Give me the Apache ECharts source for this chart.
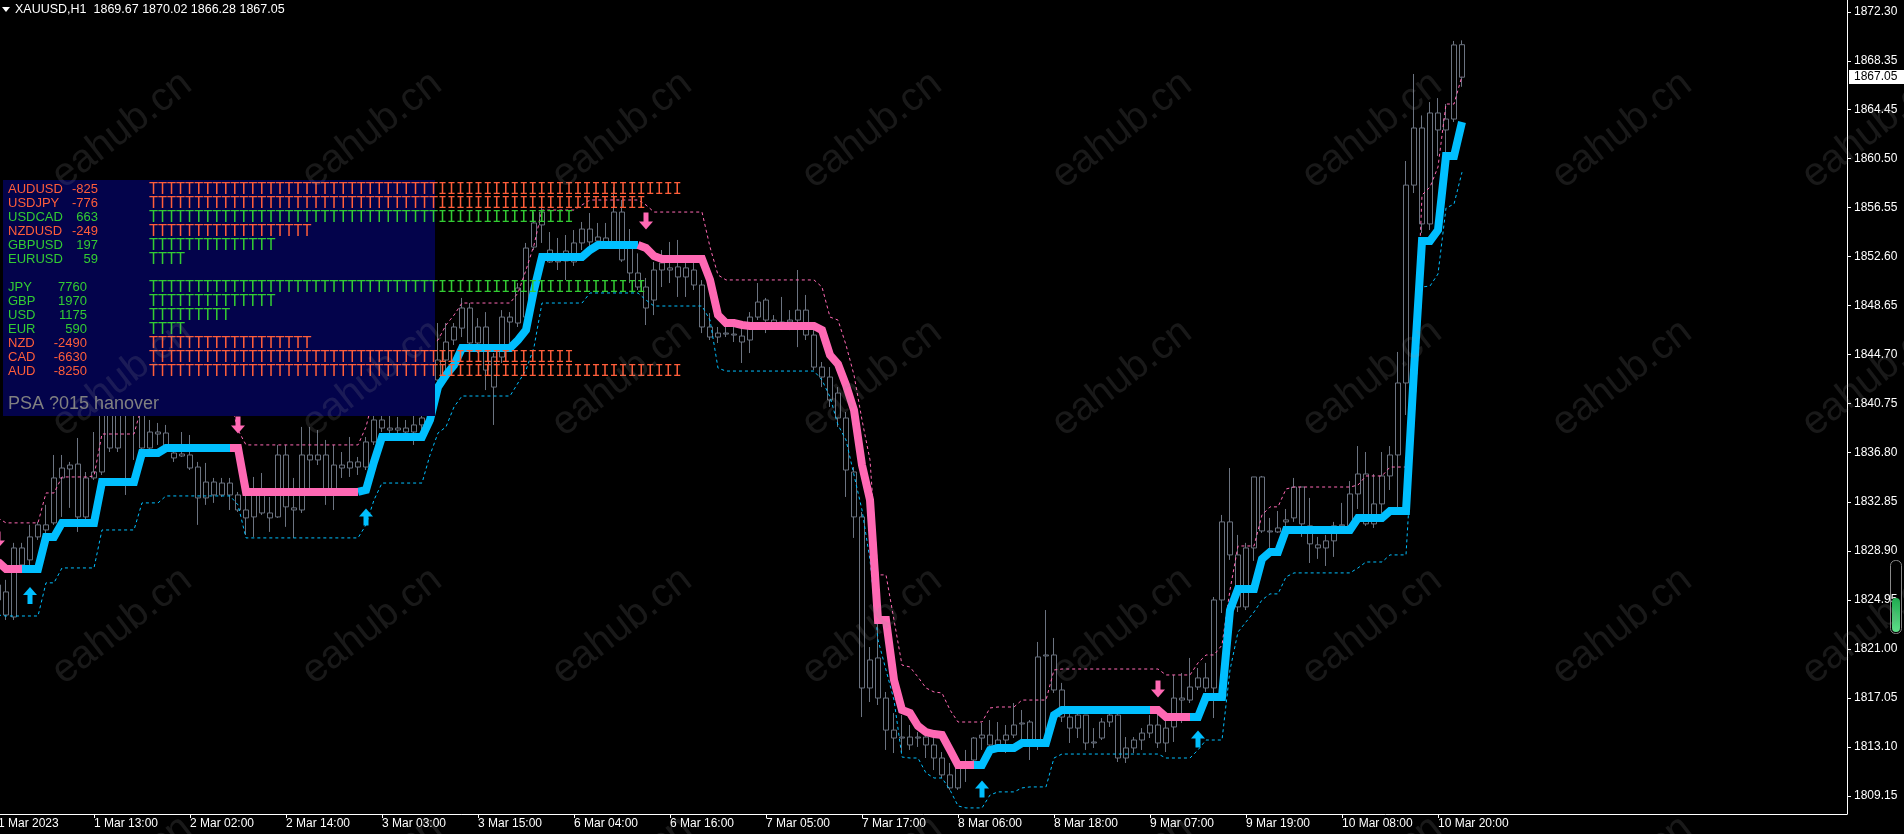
<!DOCTYPE html>
<html><head><meta charset="utf-8">
<script src="https://cdn.jsdelivr.net/npm/echarts@6/dist/echarts.min.js"></script>
<style>html,body{margin:0;padding:0;background:#000;overflow:hidden}#c{width:1904px;height:834px}</style>
</head><body><div id="c"></div>
<script>
// ---------- DATA ----------
const headerText = 'XAUUSD,H1  1869.67 1870.02 1866.28 1867.05';
const xTickIndex = [0,12,24,36,48,60,72,84,96,108,120,132,144,156,168,180];
const xTickLabels = ['1 Mar 2023','1 Mar 13:00','2 Mar 02:00','2 Mar 14:00','3 Mar 03:00','3 Mar 15:00','6 Mar 04:00','6 Mar 16:00','7 Mar 05:00','7 Mar 17:00','8 Mar 06:00','8 Mar 18:00','9 Mar 07:00','9 Mar 19:00','10 Mar 08:00','10 Mar 20:00'];
const yTickValues = [1809.15,1813.10,1817.05,1821.00,1824.95,1828.90,1832.85,1836.80,1840.75,1844.70,1848.65,1852.60,1856.55,1860.50,1864.45,1868.35,1872.30];

const opens = [1824.94,1825.59,1823.57,1829.13,1828.17,1830.02,1830.99,1831.15,1834.77,1835.81,
1835.89,1831.63,1834.77,1835.25,1841.05,1837.18,1841.45,1840.65,1840.24,1837.18,
1838.47,1838.39,1836.78,1836.54,1836.62,1835.65,1833.16,1834.44,1833.40,1834.36,
1833.40,1832.19,1831.63,1833.40,1831.95,1831.63,1836.62,1832.36,1832.19,1836.62,
1836.22,1836.62,1833.56,1835.81,1835.57,1836.06,1835.65,1837.67,1839.44,1838.79,
1838.63,1838.79,1838.47,1839.04,1839.60,1842.66,1844.27,1845.88,1846.84,1848.46,
1845.64,1846.93,1842.09,1844.51,1847.73,1847.25,1847.73,1853.37,1855.15,1853.13,
1852.17,1852.25,1852.17,1853.70,1854.82,1853.86,1854.10,1853.78,1856.19,1853.53,
1851.28,1850.15,1849.10,1851.52,1851.69,1850.96,1851.69,1851.52,1850.31,1846.93,
1846.12,1846.44,1846.36,1846.20,1845.88,1847.73,1849.10,1847.49,1847.25,1847.33,
1847.49,1848.29,1846.28,1843.70,1842.90,1841.61,1839.60,1835.25,1831.63,1817.85,
1820.27,1817.04,1814.46,1813.82,1813.90,1813.82,1813.90,1813.26,1812.21,1810.85,
1809.80,1811.40,1812.05,1813.82,1814.06,1813.26,1813.66,1814.06,1814.95,1815.11,
1813.66,1820.43,1820.51,1817.69,1815.51,1814.62,1815.67,1813.42,1813.82,1815.11,
1815.67,1812.21,1813.02,1813.66,1814.22,1814.87,1813.42,1814.71,1817.04,1816.88,
1817.93,1818.66,1817.85,1824.94,1831.23,1828.57,1824.38,1829.13,1834.85,1830.50,
1830.42,1831.23,1831.55,1834.04,1830.91,1829.38,1829.13,1829.70,1830.91,1830.91,
1833.48,1835.09,1831.07,1832.68,1834.93,1836.62,1842.42,1858.36,1862.96,1855.23,
1864.17,1862.80,1863.68,1869.67];
const highs = [1826.96,1826.56,1829.54,1829.54,1830.99,1831.23,1832.60,1836.62,1836.62,1836.06,
1837.99,1835.25,1838.47,1842.66,1842.25,1842.66,1843.46,1842.25,1841.85,1839.44,
1839.20,1839.04,1837.18,1838.47,1838.23,1836.06,1835.98,1834.77,1834.77,1834.77,
1833.64,1833.80,1834.85,1835.17,1833.24,1837.43,1837.43,1834.77,1838.88,1838.88,
1838.63,1837.83,1837.43,1836.86,1838.07,1836.46,1838.07,1840.08,1840.65,1839.84,
1839.68,1839.44,1839.84,1841.05,1843.46,1847.25,1847.25,1847.25,1849.27,1848.86,
1847.65,1848.13,1844.83,1848.29,1848.13,1850.47,1853.70,1856.19,1856.76,1854.58,
1854.10,1854.34,1854.74,1855.39,1856.11,1855.31,1855.31,1858.20,1857.16,1854.82,
1852.86,1850.88,1852.17,1853.13,1853.78,1853.94,1852.17,1852.17,1850.71,1848.05,
1846.93,1846.93,1846.93,1846.93,1848.13,1850.47,1849.27,1847.89,1849.35,1848.29,
1851.52,1849.51,1846.93,1844.11,1843.70,1842.09,1840.08,1835.65,1832.03,1821.15,
1823.33,1817.53,1815.83,1815.67,1814.87,1814.30,1814.46,1813.82,1812.69,1811.81,
1811.48,1812.86,1813.90,1815.03,1815.27,1815.11,1814.87,1816.64,1816.08,1815.27,
1821.56,1824.13,1821.88,1818.26,1815.83,1815.91,1815.67,1814.62,1815.43,1816.32,
1816.32,1813.90,1813.90,1814.62,1815.67,1815.83,1815.43,1818.90,1819.06,1820.27,
1819.46,1819.87,1825.18,1831.79,1835.57,1830.18,1829.54,1834.85,1834.93,1831.55,
1832.11,1832.27,1834.77,1834.04,1833.16,1830.02,1830.18,1831.23,1832.76,1834.52,
1837.34,1836.86,1835.09,1836.86,1837.34,1844.92,1860.30,1867.31,1863.97,1865.05,
1865.37,1864.89,1869.97,1870.02];
const lows = [1824.54,1823.33,1823.33,1827.36,1827.36,1829.78,1830.18,1830.99,1831.63,1832.36,
1830.42,1831.39,1834.61,1835.01,1836.86,1836.86,1833.40,1836.22,1836.62,1837.02,
1837.43,1837.02,1836.06,1836.46,1835.41,1830.99,1832.60,1832.76,1833.24,1832.19,
1832.03,1830.18,1830.02,1831.79,1830.42,1831.55,1830.83,1829.94,1831.95,1833.40,
1835.81,1832.60,1832.19,1834.77,1834.85,1835.01,1835.41,1837.43,1838.47,1837.83,
1838.39,1837.83,1837.43,1838.39,1839.44,1842.25,1842.66,1845.48,1846.12,1845.31,
1844.83,1841.85,1839.04,1844.03,1845.64,1846.93,1847.49,1853.13,1853.70,1852.09,
1851.52,1850.71,1851.85,1853.13,1853.37,1853.53,1853.53,1853.53,1852.17,1850.47,
1849.91,1847.09,1847.89,1850.15,1850.47,1849.35,1849.35,1849.91,1846.44,1845.88,
1845.64,1846.12,1845.72,1844.03,1844.83,1847.49,1846.44,1846.84,1846.93,1846.68,
1845.31,1845.88,1843.46,1842.09,1840.49,1838.88,1833.24,1829.94,1815.51,1816.72,
1816.48,1812.86,1812.61,1812.69,1812.86,1813.10,1812.21,1811.24,1810.60,1809.64,
1809.64,1810.28,1811.48,1812.86,1813.10,1812.86,1812.61,1813.82,1813.66,1812.05,
1812.86,1813.66,1817.45,1815.11,1813.42,1813.82,1812.86,1813.02,1813.66,1814.71,
1811.89,1811.81,1812.61,1812.86,1813.82,1813.02,1812.69,1813.50,1815.03,1816.64,
1817.69,1817.53,1815.43,1823.89,1828.17,1823.97,1824.13,1828.09,1830.34,1829.13,
1830.34,1830.66,1831.23,1830.02,1827.92,1828.25,1827.68,1828.41,1830.74,1830.74,
1832.27,1830.91,1830.74,1831.95,1833.80,1831.79,1839.84,1857.72,1854.50,1854.74,
1860.70,1861.02,1863.44,1866.28];
const closes = [1826.15,1823.73,1829.13,1827.76,1830.02,1830.99,1830.58,1834.77,1835.57,1835.49,
1831.63,1834.77,1835.25,1840.65,1837.18,1841.45,1840.65,1841.05,1837.18,1838.47,
1838.31,1837.26,1836.38,1836.70,1835.57,1833.16,1834.44,1833.40,1834.36,1833.40,
1832.19,1831.55,1833.40,1831.95,1831.55,1836.62,1832.44,1832.19,1836.62,1836.22,
1836.62,1833.40,1835.81,1835.57,1836.06,1835.65,1837.67,1839.44,1838.79,1838.63,
1838.79,1838.47,1839.04,1839.60,1842.66,1844.27,1845.72,1846.93,1848.46,1845.64,
1846.93,1843.46,1844.51,1847.73,1847.33,1850.07,1853.29,1855.31,1856.19,1852.17,
1852.25,1853.05,1853.70,1854.82,1853.78,1854.18,1853.78,1856.19,1852.33,1851.28,
1850.15,1848.46,1851.52,1852.09,1851.52,1851.77,1850.96,1850.31,1846.93,1846.12,
1846.44,1846.36,1846.28,1845.72,1847.73,1848.94,1847.49,1847.25,1847.33,1847.49,
1848.29,1846.28,1843.70,1842.90,1841.05,1839.60,1835.41,1831.63,1817.85,1820.11,
1817.04,1814.46,1813.82,1813.90,1813.26,1813.90,1813.26,1812.21,1810.85,1809.80,
1811.40,1811.81,1813.82,1814.06,1813.26,1813.66,1814.06,1814.87,1815.03,1813.66,
1820.35,1820.51,1817.69,1815.51,1814.62,1815.67,1813.42,1813.50,1815.11,1815.67,
1812.21,1813.02,1813.66,1814.22,1814.87,1813.42,1814.62,1817.04,1816.88,1817.93,
1818.66,1817.85,1824.94,1831.23,1828.57,1824.38,1829.13,1834.85,1830.50,1830.42,
1830.74,1831.39,1834.04,1831.07,1829.46,1829.13,1829.70,1830.91,1830.99,1833.48,
1835.09,1831.07,1832.68,1834.93,1836.62,1842.42,1858.36,1862.96,1855.23,1864.17,
1862.80,1863.68,1869.65,1867.05];

const trendLine = [1828.01,1827.44,1827.44,1827.44,1827.44,1827.44,1830.02,1830.02,1831.15,1831.15,
1831.15,1831.15,1831.15,1834.44,1834.44,1834.44,1834.44,1834.44,1836.78,1836.78,
1836.78,1837.18,1837.18,1837.18,1837.18,1837.18,1837.18,1837.18,1837.18,1837.18,
1837.18,1833.64,1833.64,1833.64,1833.64,1833.64,1833.64,1833.64,1833.64,1833.64,
1833.64,1833.64,1833.64,1833.64,1833.64,1833.64,1833.80,1836.06,1838.07,1838.07,
1838.07,1838.07,1838.07,1838.07,1839.44,1842.09,1843.06,1843.86,1845.23,1845.23,
1845.23,1845.23,1845.23,1845.23,1845.23,1845.88,1846.68,1849.91,1852.57,1852.57,
1852.57,1852.57,1852.57,1852.57,1853.13,1853.53,1853.53,1853.53,1853.53,1853.53,
1853.53,1853.29,1852.65,1852.41,1852.41,1852.41,1852.41,1852.41,1852.41,1850.72,
1847.89,1847.25,1847.25,1847.09,1847.01,1847.01,1847.01,1847.01,1847.01,1847.01,
1847.01,1847.01,1847.01,1846.68,1844.67,1843.94,1842.25,1840.24,1835.81,1833.00,
1823.33,1823.33,1818.50,1816.08,1815.83,1814.79,1814.30,1814.14,1814.06,1812.86,
1811.64,1811.64,1811.64,1811.64,1812.86,1813.02,1813.02,1813.02,1813.42,1813.42,
1813.42,1813.42,1815.67,1816.08,1816.08,1816.08,1816.08,1816.08,1816.08,1816.08,
1816.08,1816.08,1816.08,1816.08,1816.08,1816.08,1815.51,1815.51,1815.51,1815.51,
1815.51,1817.13,1817.13,1817.13,1824.13,1825.83,1825.83,1825.83,1828.25,1828.81,
1828.81,1830.58,1830.58,1830.58,1830.58,1830.58,1830.58,1830.58,1830.58,1830.58,
1831.55,1831.55,1831.55,1831.55,1832.11,1832.11,1832.11,1843.46,1853.86,1853.86,
1854.74,1860.70,1860.70,1863.44];
// [firstBar, lastBar, direction]  1 = up (blue), -1 = down (pink)
const trendSegments = [[0,3,-1],[4,29,1],[30,45,-1],[46,80,1],[81,122,-1],[123,144,1],[145,149,-1],[150,183,1]];

const upperBand = [1831.55,1831.15,1831.15,1831.15,1831.15,1831.15,1833.56,1833.56,1834.85,1834.85,
1834.85,1834.85,1834.93,1838.31,1838.31,1838.31,1838.31,1838.31,1840.65,1841.21,
1841.21,1841.21,1841.21,1841.21,1841.21,1841.21,1841.21,1841.21,1841.21,1841.21,
1838.63,1837.43,1837.43,1837.43,1837.43,1837.43,1837.43,1837.43,1837.43,1837.43,
1837.43,1837.43,1837.43,1837.43,1837.43,1837.43,1838.88,1841.45,1842.66,1842.66,
1842.66,1842.66,1842.66,1844.27,1845.48,1845.88,1847.09,1847.89,1848.86,1848.86,
1848.86,1848.86,1848.86,1848.86,1848.86,1849.67,1851.52,1853.53,1856.35,1856.35,
1856.35,1856.35,1856.35,1856.76,1857.16,1857.16,1857.16,1857.16,1857.16,1857.16,
1857.16,1856.76,1856.19,1856.19,1856.19,1856.19,1856.19,1856.19,1856.19,1853.37,
1851.12,1850.72,1850.72,1850.72,1850.72,1850.72,1850.72,1850.72,1850.72,1850.72,
1850.72,1850.72,1850.72,1850.15,1847.73,1847.49,1845.48,1843.06,1839.44,1836.22,
1826.96,1826.96,1823.33,1819.70,1819.54,1818.73,1817.85,1817.53,1817.45,1816.08,
1815.11,1815.11,1815.11,1815.11,1816.24,1816.32,1816.32,1816.32,1816.88,1816.88,
1816.88,1816.88,1819.30,1819.38,1819.38,1819.38,1819.38,1819.38,1819.38,1819.38,
1819.38,1819.38,1819.38,1819.38,1819.38,1819.38,1818.90,1818.90,1818.90,1818.90,
1819.87,1820.51,1820.51,1821.31,1825.75,1829.29,1829.29,1829.29,1831.79,1832.44,
1832.44,1833.88,1834.04,1834.04,1834.04,1834.04,1834.04,1834.04,1834.04,1834.04,
1834.20,1834.93,1834.93,1834.93,1835.65,1835.65,1835.65,1841.85,1857.56,1858.20,
1859.82,1864.89,1864.89,1867.15];
const lowerBand = [1823.73,1823.65,1823.65,1823.65,1823.65,1823.65,1826.32,1826.32,1827.52,1827.52,
1827.52,1827.52,1827.52,1830.58,1830.58,1830.58,1830.58,1830.58,1832.76,1832.76,
1832.76,1833.32,1833.32,1833.32,1833.32,1833.32,1833.32,1833.32,1833.32,1833.32,
1832.60,1829.94,1829.94,1829.94,1829.94,1829.94,1829.94,1829.94,1829.94,1829.94,
1829.94,1829.94,1829.94,1829.94,1829.94,1829.94,1830.99,1833.00,1834.36,1834.36,
1834.36,1834.36,1834.36,1834.36,1836.62,1838.39,1838.88,1840.49,1841.37,1841.37,
1841.37,1841.37,1841.37,1841.37,1841.37,1842.42,1843.46,1845.31,1848.86,1848.86,
1848.86,1848.86,1848.86,1848.86,1849.67,1849.67,1849.67,1849.67,1849.67,1849.67,
1849.67,1849.10,1848.62,1848.62,1848.62,1848.62,1848.62,1848.62,1848.62,1847.49,
1843.62,1843.38,1843.38,1843.38,1843.38,1843.38,1843.38,1843.38,1843.38,1843.38,
1843.38,1843.38,1843.38,1842.66,1841.29,1839.04,1837.83,1835.01,1832.19,1828.17,
1821.72,1819.30,1816.88,1812.29,1812.21,1812.21,1811.00,1810.60,1810.60,1809.64,
1808.35,1808.19,1808.19,1808.19,1809.23,1809.48,1809.48,1809.48,1809.80,1809.88,
1809.88,1809.88,1812.21,1812.53,1812.53,1812.53,1812.53,1812.53,1812.53,1812.53,
1812.53,1812.53,1812.53,1812.53,1812.53,1812.53,1812.21,1812.21,1812.21,1812.21,
1812.86,1813.66,1813.66,1813.66,1819.30,1822.36,1823.17,1823.97,1824.94,1825.43,
1825.43,1826.80,1827.12,1827.12,1827.12,1827.12,1827.12,1827.12,1827.12,1827.12,
1827.52,1828.00,1828.00,1828.00,1828.57,1828.57,1828.57,1839.44,1850.15,1850.23,
1851.20,1856.51,1856.83,1859.40];

const upArrows = [[4,1825.30],[46,1831.63],[123,1809.72],[150,1813.74]];
const downArrows = [[0,1829.78],[30,1839.04],[81,1855.47],[145,1817.77]];

const pairNames = ['AUDUSD','USDJPY','USDCAD','NZDUSD','GBPUSD','EURUSD'];
const pairValues = [-825,-776,663,-249,197,59];
const pairBars = [59,55,47,18,14,4];
const ccyNames = ['JPY','GBP','USD','EUR','NZD','CAD','AUD'];
const ccyValues = [7760,1970,1175,590,-2490,-6630,-8250];
const ccyBars = [55,14,9,4,18,47,59];
const panelFooter = 'PSA ?015 hanover';
const watermarkText = 'eahub.cn';

// ---------- BUILD ----------
const BLUE = '#00bfff', PINK = '#ff69b4', CANDLE = '#6b7380';
const RED = '#ff5e3a', GREEN = '#33cc33';
const FONT = '"Liberation Sans", Arial, sans-serif';
const N = opens.length;
const candleData = opens.map((o,i)=>[i,o,closes[i],lows[i],highs[i]]);
const dir = new Array(N).fill(0);
trendSegments.forEach(([a,b,d])=>{ for(let i=a;i<=b;i++) dir[i]=d; });
function trendPart(d){
  return trendLine.map((v,i)=> (dir[i]===d || (i+1<N && dir[i+1]===d)) ? [i,v] : [i,'-']);
}
const lastClose = closes[N-1];

const upPath = 'path://M7,0 L14,8 L9.5,8 L9.5,17 L4.5,17 L4.5,8 L0,8 Z';
const downPath = 'path://M4.5,0 L9.5,0 L9.5,9 L14,9 L7,17 L0,9 L4.5,9 Z';

const G = [];
// header
G.push({type:'polygon', shape:{points:[[2,7],[10,7],[6,12]]}, style:{fill:'#fff'}, z:100});
G.push({type:'text', x:15, y:10, z:100, style:{text:headerText, fill:'#fff', font:'12.5px '+FONT, align:'left', verticalAlign:'middle'}});
// panel
G.push({type:'rect', shape:{x:3,y:180,width:432,height:236}, style:{fill:'#03034b'}, z:100});
const rowTop = 189, rowStep = 14, barX = 149, inside = 32;
function barStr(n){ return 'T'.repeat(Math.min(n,inside)) + 'I'.repeat(Math.max(0,n-inside)); }
const lblFont = '13px '+FONT;
const monoFont = '15px "DejaVu Sans Mono", "Liberation Mono", monospace';
function addRow(k, name, val, n, valRight){
  const y = rowTop + k*rowStep;
  const col = val < 0 ? RED : GREEN;
  G.push({type:'text', x:8, y:y, z:101, style:{text:name, fill:col, font:lblFont, align:'left', verticalAlign:'middle'}});
  G.push({type:'text', x:valRight, y:y, z:101, style:{text:String(val), fill:col, font:lblFont, align:'right', verticalAlign:'middle'}});
  G.push({type:'text', x:barX, y:y+1, z:101, style:{text:barStr(n), fill:col, font:monoFont, align:'left', verticalAlign:'middle'}});
}
pairNames.forEach((n,k)=>addRow(k, n, pairValues[k], pairBars[k], 98));
ccyNames.forEach((n,k)=>addRow(k+7, n, ccyValues[k], ccyBars[k], 87));
G.push({type:'text', x:8, y:404, z:101, style:{text:panelFooter, fill:'#808080', font:'18px '+FONT, align:'left', verticalAlign:'middle'}});
// gauge
G.push({type:'rect', shape:{x:1890.5,y:560.5,width:11,height:73,r:5}, style:{fill:'none', stroke:'#8a8a8a', lineWidth:1}, z:100});
G.push({type:'rect', shape:{x:1892,y:598,width:8,height:34,r:4}, style:{fill:new echarts.graphic.LinearGradient(0,0,0,1,[{offset:0,color:'#1faa4f'},{offset:1,color:'#5fe08a'}])}, z:100});
// watermarks
for(let r=0;r<4;r++){
  for(let c=0;c<8;c++){
    G.push({type:'text', x:122+250*c, y:130+248*r, rotation:0.66, z:120, silent:true,
      style:{text:watermarkText, fill:'rgba(150,150,150,0.17)', font:'40px '+FONT, align:'center', verticalAlign:'middle'}});
  }
}

const option = {
  animation:false,
  backgroundColor:'#000',
  grid:{left:-2, right:57, top:0, bottom:20, containLabel:false, outerBoundsMode:'none'},
  xAxis:{type:'value', min:0, max:231.125, splitLine:{show:false},
    axisLine:{show:true, onZero:false, lineStyle:{color:'#ffffff', width:1}},
    axisTick:{show:true, customValues:xTickIndex, length:4, lineStyle:{color:'#ffffff'}},
    axisLabel:{show:true, customValues:xTickIndex, hideOverlap:false, align:'left', margin:4,
      color:'#ffffff', fontSize:12, fontFamily:FONT,
      formatter:(v)=>{ const k = xTickIndex.indexOf(Math.round(v)); return k>=0 ? xTickLabels[k] : ''; }}
  },
  yAxis:{type:'value', position:'right', min:1807.70, max:1873.27, splitLine:{show:false},
    axisLine:{show:true, onZero:false, lineStyle:{color:'#ffffff', width:1}},
    axisTick:{show:true, customValues:yTickValues, length:4, lineStyle:{color:'#ffffff'}},
    axisLabel:{show:true, customValues:yTickValues, hideOverlap:false, margin:7, align:'left',
      color:'#ffffff', fontSize:12, fontFamily:FONT,
      formatter:(v)=>v.toFixed(2)}
  },
  series:[
    {type:'candlestick', name:'XAUUSD', data:candleData, barWidth:5, z:2,
      itemStyle:{color:'#000', color0:'#000', borderColor:CANDLE, borderColor0:CANDLE, borderWidth:1}},
    {type:'line', name:'upper', data:upperBand.map((v,i)=>[i,v]), symbol:'none', z:3,
      lineStyle:{color:PINK, width:1, type:[3,3]}},
    {type:'line', name:'lower', data:lowerBand.map((v,i)=>[i,v]), symbol:'none', z:3,
      lineStyle:{color:BLUE, width:1, type:[3,3]}},
    {type:'line', name:'trendUp', data:trendPart(1), symbol:'none', connectNulls:false, z:4,
      lineStyle:{color:BLUE, width:8, cap:'butt', join:'miter'}},
    {type:'line', name:'trendDown', data:trendPart(-1), symbol:'none', connectNulls:false, z:4,
      lineStyle:{color:PINK, width:8, cap:'butt', join:'miter'}},
    {type:'scatter', name:'buy', data:upArrows, symbol:upPath, symbolSize:[14,17], z:5,
      itemStyle:{color:BLUE, opacity:1}},
    {type:'scatter', name:'sell', data:downArrows, symbol:downPath, symbolSize:[14,17], z:5,
      itemStyle:{color:PINK, opacity:1}}
  ],
  graphic:{elements:G}
};
const chart = echarts.init(document.getElementById('c'), null, {renderer:'canvas', width:1904, height:834});
chart.setOption(option);
// current price tag on the price scale, positioned through the y axis scale
const py = chart.convertToPixel({yAxisIndex:0}, lastClose);
G.push({type:'rect', shape:{x:1849, y:Math.round(py)-7, width:55, height:14}, style:{fill:'#ffffff'}, z:130});
G.push({type:'text', x:1854, y:Math.round(py), z:131, style:{text:lastClose.toFixed(2), fill:'#000000', font:'12px '+FONT, align:'left', verticalAlign:'middle'}});
chart.setOption({graphic:{elements:G}});
</script>
</body></html>
